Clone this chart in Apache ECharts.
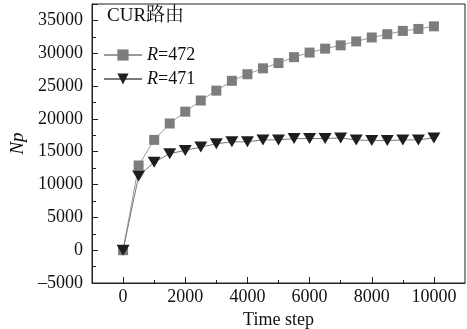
<!DOCTYPE html>
<html>
<head>
<meta charset="utf-8">
<script src="https://cdn.jsdelivr.net/npm/echarts@6/dist/echarts.min.js"></script>
<style>
  html, body { margin: 0; padding: 0; background: #fff; }
  #chart { width: 467px; height: 329px; }
</style>
</head>
<body>
<div id="chart"></div>
<script>
// time steps, every 500
const steps = [0, 500, 1000, 1500, 2000, 2500, 3000, 3500, 4000, 4500, 5000,
  5500, 6000, 6500, 7000, 7500, 8000, 8500, 9000, 9500, 10000];
const r472 = [0, 12900, 16800, 19300, 21100, 22800, 24300, 25800, 26800, 27700, 28500,
  29400, 30100, 30700, 31200, 31800, 32400, 32900, 33400, 33700, 34100];
const r471 = [0, 11300, 13400, 14700, 15200, 15700, 16200, 16500, 16500, 16800, 16800,
  17000, 17000, 17000, 17100, 16800, 16700, 16700, 16800, 16800, 17100];
const xLabels = [0, 2000, 4000, 6000, 8000, 10000];
const xMinor = [1000, 3000, 5000, 7000, 9000];

const serif = '"Liberation Serif", "DejaVu Serif", "Noto Serif CJK SC", "Noto Sans CJK SC", serif';
const plain = (v) => (v < 0 ? '\u2013' + Math.abs(v) : String(v));

let chartDom = document.getElementById('chart');
let myChart = echarts.init(chartDom);
let option;

option = {
  backgroundColor: '#fff',
  animation: false,
  textStyle: { fontFamily: serif, color: '#111' },
  grid: {
    left: 92,
    right: 2,
    top: 4,
    bottom: 46,
    outerBoundsMode: 'none',
    containLabel: false,
    show: true,
    borderColor: '#222',
    borderWidth: 1,
  },
  graphic: [
    {
      type: 'text',
      left: 107,
      top: 7,
      style: { text: 'CUR路由', fontFamily: serif, fontSize: 19, fill: '#111' },
    },
  ],
  legend: {
    left: 98,
    top: 41,
    orient: 'vertical',
    itemWidth: 38,
    itemHeight: 14,
    itemGap: 6,
    data: ['R=472', 'R=471'],
    formatter: (name) => '{i|R}' + name.slice(1),
    textStyle: {
      fontFamily: serif,
      fontSize: 18,
      color: '#111',
      rich: {
        i: { fontStyle: 'italic', fontFamily: serif, fontSize: 18, color: '#111' },
      },
    },
  },
  xAxis: [
    {
      type: 'value',
      min: -1000,
      max: 11000,
      name: 'Time step',
      nameLocation: 'middle',
      nameGap: 26,
      nameTextStyle: { fontFamily: serif, fontSize: 18, color: '#111' },
      splitLine: { show: false },
      axisLine: { show: true, onZero: false, lineStyle: { color: '#222', width: 1 } },
      axisTick: { show: true, inside: true, length: 6, customValues: xLabels, lineStyle: { color: '#222' } },
      axisLabel: { customValues: xLabels, margin: 5, formatter: plain, fontFamily: serif, fontSize: 18, color: '#111' },
    },
    {
      type: 'value',
      min: -1000,
      max: 11000,
      position: 'bottom',
      splitLine: { show: false },
      axisLine: { show: false, onZero: false },
      axisTick: { show: true, inside: true, length: 3, customValues: xMinor, lineStyle: { color: '#222' } },
      axisLabel: { show: false },
    },
  ],
  yAxis: {
    type: 'value',
    min: -5000,
    max: 37500,
    interval: 5000,
    name: 'Np',
    nameLocation: 'middle',
    nameGap: 64,
    nameTextStyle: { fontFamily: serif, fontSize: 19, fontStyle: 'italic', color: '#111' },
    splitLine: { show: false },
    axisLine: { show: true, onZero: false, lineStyle: { color: '#222', width: 1 } },
    axisTick: { show: true, inside: true, length: 6, lineStyle: { color: '#222' } },
    minorTick: { show: true, splitNumber: 2, length: 4, lineStyle: { color: '#222' } },
    axisLabel: { margin: 9, showMaxLabel: false, formatter: plain, fontFamily: serif, fontSize: 18, color: '#111' },
  },
  series: [
    {
      name: 'R=472',
      type: 'line',
      data: steps.map((s, i) => [s, r472[i]]),
      symbol: 'rect',
      symbolSize: 10,
      itemStyle: { color: '#7d7d7d' },
      lineStyle: { color: '#9a9a9a', width: 1 },
    },
    {
      name: 'R=471',
      type: 'line',
      data: steps.map((s, i) => [s, r471[i]]),
      symbol: 'triangle',
      symbolRotate: 180,
      symbolSize: [13, 11],
      itemStyle: { color: '#1e1e1e' },
      lineStyle: { color: '#7a7a7a', width: 1 },
    },
  ],
};

option && myChart.setOption(option);
</script>
</body>
</html>
